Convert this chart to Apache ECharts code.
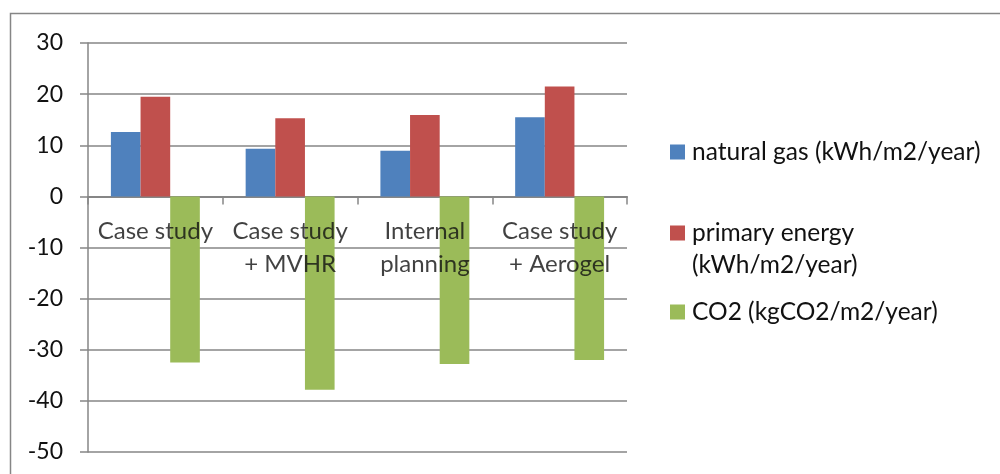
<!DOCTYPE html>
<html>
<head>
<meta charset="utf-8">
<script src="https://cdn.jsdelivr.net/npm/echarts@6/dist/echarts.min.js"></script>
<style>
html,body{margin:0;padding:0;background:#fff;}
#c{width:1000px;height:474px;}
</style>
</head>
<body>
<div id="c"></div>
<script>
const categories = ['Case study', 'Case study\n+ MVHR', 'Internal\nplanning', 'Case study\n+ Aerogel'];
const seriesNames = ['natural gas (kWh/m2/year)', 'primary energy (kWh/m2/year)', 'CO2 (kgCO2/m2/year)'];
const naturalGas = [12.6, 9.3, 8.9, 15.5];
const primaryEnergy = [19.5, 15.3, 15.9, 21.5];
const co2 = [-32.5, -37.8, -32.8, -32.0];
const yTicks = { min: -50, max: 30, interval: 10 };

const colors = ['#4f81bd', '#c0504d', '#9bbb59'];
const FONT = 'Lato';
const chart = echarts.init(document.getElementById('c'), null, { renderer: 'canvas' });

const legendBase = {
  orient: 'vertical', left: 670, padding: 0, itemWidth: 15, itemHeight: 15, itemGap: 0,
  textStyle: { fontFamily: FONT, fontSize: 24.5, color: '#111', lineHeight: 32, padding: [0, 0, 0, 2] },
  icon: 'rect'
};

chart.setOption({
  animation: false,
  backgroundColor: '#fff',
  color: colors,
  graphic: [{
    type: 'polyline',
    shape: { points: [[10.5, 480], [10.5, 13.5], [1000, 13.5]] },
    style: { stroke: '#868686', lineWidth: 1.5, fill: null },
    silent: true
  }],
  legend: [
    Object.assign({}, legendBase, { data: [seriesNames[0]], top: 136 }),
    Object.assign({}, legendBase, {
      data: [seriesNames[1]], top: 217,
      icon: 'path://M0,0h15v15h-15z M0,46.9h0.01v0.01h-0.01z',
      itemHeight: 47,
      formatter: n => 'primary energy\n(kWh/m2/year)'
    }),
    Object.assign({}, legendBase, { data: [seriesNames[2]], top: 296 })
  ],
  grid: { left: 88, right: 373, top: 43, bottom: 22, containLabel: false, outerBoundsMode: 'none' },
  xAxis: {
    type: 'category',
    data: categories,
    axisLine: { onZero: true, lineStyle: { color: '#868686', width: 2 } },
    axisTick: { show: true, length: 8, inside: false, lineStyle: { color: '#868686', width: 1.5 } },
    axisLabel: { show: false },
    splitLine: { show: false }
  },
  yAxis: {
    type: 'value',
    min: yTicks.min, max: yTicks.max, interval: yTicks.interval,
    axisLine: { show: true, lineStyle: { color: '#868686', width: 1.5 } },
    axisTick: { show: true, length: 8, lineStyle: { color: '#868686', width: 1.5 } },
    axisLabel: { fontFamily: FONT, fontSize: 23, color: '#111', margin: 25 },
    splitLine: { show: true, lineStyle: { color: '#868686', width: 1.5 } }
  },
  series: [
    { name: seriesNames[0], type: 'bar', data: naturalGas, barGap: '0%', barCategoryGap: '34%' },
    { name: seriesNames[1], type: 'bar', data: primaryEnergy, barGap: '0%', barCategoryGap: '34%' },
    { name: seriesNames[2], type: 'bar', data: co2, barGap: '0%', barCategoryGap: '34%' },
    {
      name: 'category labels', type: 'scatter', z: 10, silent: true,
      symbolSize: 0,
      data: categories.map((c, i) => [i, 0]),
      label: {
        show: true, position: 'bottom', distance: 18,
        formatter: p => categories[p.dataIndex],
        fontFamily: FONT, fontSize: 24, color: '#111', lineHeight: 33, align: 'center'
      }
    }
  ]
});
</script>
</body>
</html>
